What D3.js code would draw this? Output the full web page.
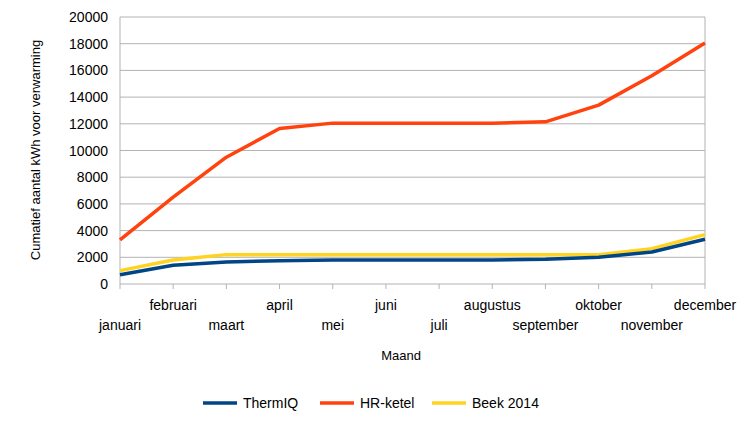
<!DOCTYPE html><html><head><meta charset="utf-8">
<script src="https://cdn.jsdelivr.net/npm/d3@7"></script>
<style>body{margin:0;background:#fff}text{font-family:"Liberation Sans",Arial,sans-serif}</style></head><body>
<svg id="c" width="755" height="426"></svg>
<script>
const months=["januari","februari","maart","april","mei","juni","juli","augustus","september","oktober","november","december"];
const thermIQ=[700,1400,1650,1750,1800,1800,1800,1800,1850,2000,2400,3350];
const hrKetel=[3300,6500,9500,11650,12050,12050,12050,12050,12150,13400,15600,18050];
const beek2014=[1000,1800,2200,2200,2200,2200,2200,2200,2200,2200,2650,3700];
const yTicks=[0,2000,4000,6000,8000,10000,12000,14000,16000,18000,20000];
const series=[{name:"ThermIQ",v:thermIQ,c:"#004586"},{name:"HR-ketel",v:hrKetel,c:"#ff420e"},{name:"Beek 2014",v:beek2014,c:"#ffd320"}];
const svg=d3.select("#c");
const x=d3.scalePoint().domain(months).range([120,705]);
const y=d3.scaleLinear().domain([0,20000]).range([284,17]);
const g=svg.append("g");
yTicks.forEach(t=>g.append("line").attr("x1",120).attr("x2",705).attr("y1",y(t)).attr("y2",y(t)).attr("stroke","#b3b3b3"));
g.append("line").attr("x1",120).attr("x2",120).attr("y1",17).attr("y2",284).attr("stroke","#b3b3b3");
g.append("line").attr("x1",705).attr("x2",705).attr("y1",17).attr("y2",284).attr("stroke","#b3b3b3");
months.forEach(m=>g.append("line").attr("x1",x(m)).attr("x2",x(m)).attr("y1",284).attr("y2",289).attr("stroke","#b3b3b3"));
yTicks.forEach(t=>g.append("text").attr("x",108).attr("y",y(t)+5).attr("text-anchor","end").attr("font-size",14).text(t));
months.forEach((m,i)=>g.append("text").attr("x",x(m)).attr("y",i%2?310:330).attr("text-anchor","middle").attr("font-size",14).text(m));
svg.append("text").attr("transform","translate(40,150) rotate(-90)").attr("text-anchor","middle").attr("font-size",13).text("Cumatief aantal kWh voor verwarming");
svg.append("text").attr("x",401).attr("y",360).attr("text-anchor","middle").attr("font-size",13).text("Maand");
const line=d3.line().x((d,i)=>x(months[i])).y(d=>y(d));
[series[1],series[2],series[0]].forEach(s=>svg.append("path").attr("d",line(s.v)).attr("fill","none").attr("stroke",s.c).attr("stroke-width",3.5).attr("stroke-linejoin","round"));
const lx=[203,320,432];
series.forEach((s,i)=>{svg.append("line").attr("x1",lx[i]).attr("x2",lx[i]+34).attr("y1",403).attr("y2",403).attr("stroke",s.c).attr("stroke-width",3.5);
svg.append("text").attr("x",lx[i]+40).attr("y",408).attr("font-size",14).text(s.name);});
</script></body></html>
